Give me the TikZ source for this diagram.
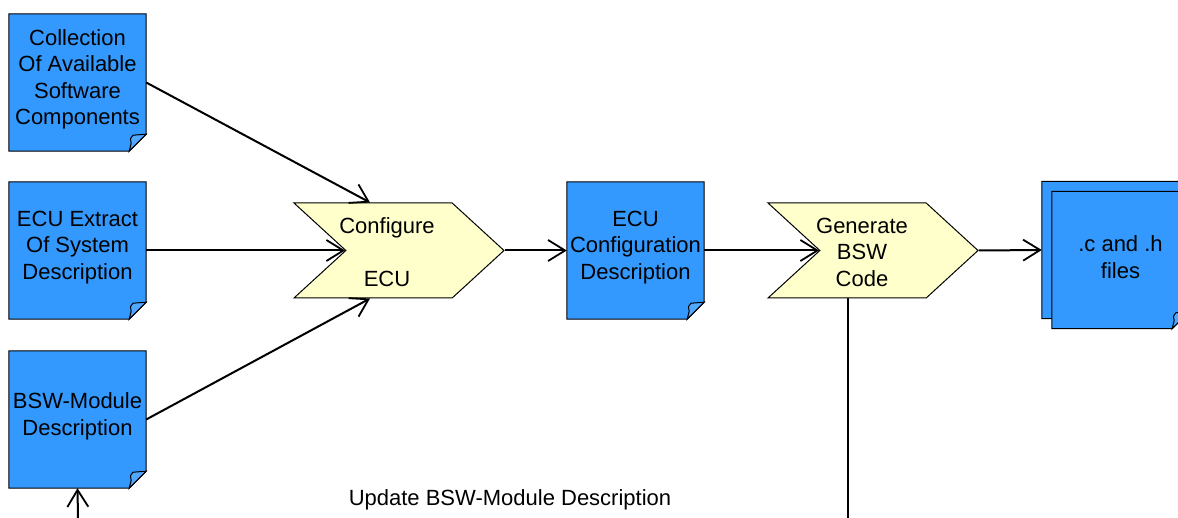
\documentclass[tikz,border=0pt]{standalone}
\usepackage{fontspec}
\setmainfont{Liberation Sans}
\usetikzlibrary{shapes.symbols,arrows.meta,backgrounds,calc}
\definecolor{docblue}{RGB}{51,153,255}
\definecolor{chevyellow}{RGB}{255,255,204}

\begin{document}
\begin{tikzpicture}[x=1pt,y=-1pt,
	font=\fontsize{22}{26.5}\selectfont,
	doc/.style={minimum width=137pt,minimum height=137pt,inner sep=0pt,align=center},
	docline/.style={draw=black,line width=1pt,fill=docblue},
	chev/.style={signal,signal from=west,signal to=east,signal pointer angle=85,
		draw=black,line width=1pt,fill=chevyellow,minimum width=210pt,minimum height=95pt,inner sep=0pt},
	chevtext/.style={align=center,inner sep=0pt},
	flow/.style={line width=2pt,-{Straight Barb[length=17pt,width=21pt,line width=1.8pt]}}]

	\useasboundingbox (0,0) rectangle (1178,518);

	% documents (text sits 3pt above the middle of the sheet)
	\node[doc] (coll) at (77.5,79.5) {Collection\\Of Available\\Software\\Components};
	\node[doc] (extr) at (77.5,247.5) {ECU Extract\\Of System\\Description};
	\node[doc] (bswm) at (77.5,416.5) {BSW-Module\\Description};
	\node[doc] (ecuc) at (635.5,247.5) {ECU\\Configuration\\Description};
	\node[doc] (filesb) at (1110.5,247) {};
	\node[doc] (filesf) at (1120.5,257) {.c and .h\\files};

	% activities
	\node[chev] (conf) at (399,250.5) {};
	\node[chevtext] (conft) at (387,252) {Configure\\[26.5pt]ECU};
	\node[chev] (gen) at (873,250.5) {};
	\node[chevtext] (gent) at (862,252) {Generate\\BSW\\Code};

	\node (upd) at (510,500) {Update BSW-Module Description};
	\coordinate (updin) at (78,518);
	\coordinate (genout) at (848,518);

	\begin{scope}[on background layer]
	\foreach \n in {coll,extr,bswm,ecuc,filesb,filesf} {
		\draw[docline] ($(\n.north west)+(0,3)$) -- ($(\n.north east)+(0,3)$) -- ($(\n.south east)+(0,-14)$)
			-- ($(\n.south east)+(-17,3)$) -- ($(\n.south west)+(0,3)$) -- cycle;
		\draw[docline,fill=docblue!85!white] ($(\n.south east)+(0,-14)$) -- ($(\n.south east)+(-13,-13)$)
			.. controls ($(\n.south east)+(-16,-10)$) .. ($(\n.south east)+(-15,-5)$)
			-- ($(\n.south east)+(-17,3)$) -- cycle;
	}
	\end{scope}

	\draw[flow] ([yshift=-3pt]coll.east) -- ([xshift=-29pt]conf.north);
	\draw[flow] ([yshift=-3pt]extr.east) -- (conf.west);
	\draw[flow] ([yshift=-3pt]bswm.east) -- ([xshift=-29pt]conf.south);
	\draw[flow] (conf.east) -- ([yshift=-3pt]ecuc.west);
	\draw[flow] ([yshift=-3pt]ecuc.east) -- (gen.west);
	\draw[flow] (gen.east) -- ([yshift=-3pt]filesb.west);
	\draw[flow] (updin) -- ([yshift=-3pt]bswm.south);
	\draw[line width=2pt] (genout |- gen.south) -- (genout);

\end{tikzpicture}
\end{document}
